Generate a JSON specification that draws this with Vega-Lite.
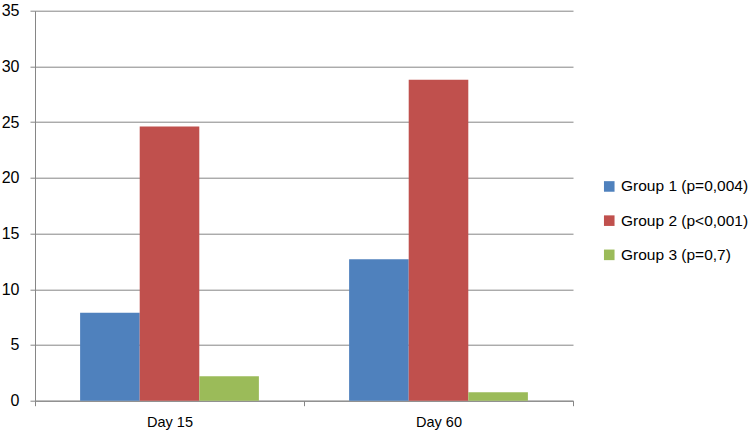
{
  "$schema": "https://vega.github.io/schema/vega-lite/v6.json",
  "autosize": "none",
  "padding": {"left": 35, "top": 10.7, "right": 178, "bottom": 32.3},
  "width": 538,
  "height": 390,
  "background": "white",
  "data": {
    "values": [
      {"day": "Day 15", "group": "Group 1 (p=0,004)", "value": 7.9},
      {"day": "Day 15", "group": "Group 2 (p<0,001)", "value": 24.6},
      {"day": "Day 15", "group": "Group 3 (p=0,7)", "value": 2.2},
      {"day": "Day 60", "group": "Group 1 (p=0,004)", "value": 12.7},
      {"day": "Day 60", "group": "Group 2 (p<0,001)", "value": 28.8},
      {"day": "Day 60", "group": "Group 3 (p=0,7)", "value": 0.75}
    ]
  },
  "mark": {"type": "bar"},
  "encoding": {
    "x": {
      "field": "day",
      "type": "nominal",
      "scale": {"paddingInner": 0, "paddingOuter": 0},
      "axis": {
        "title": null,
        "labelAngle": 0,
        "tickBand": "extent",
        "domainColor": "#868686",
        "tickColor": "#868686",
        "tickSize": 5,
        "labelFont": "Liberation Sans",
        "labelFontSize": 14.5,
        "labelColor": "#000000",
        "labelPadding": 10,
        "grid": false
      }
    },
    "xOffset": {
      "field": "group",
      "type": "nominal",
      "scale": {"paddingInner": 0, "paddingOuter": 0.757}
    },
    "y": {
      "field": "value",
      "type": "quantitative",
      "scale": {"domain": [0, 35], "nice": false},
      "axis": {
        "title": null,
        "values": [0, 5, 10, 15, 20, 25, 30, 35],
        "grid": true,
        "gridColor": "#868686",
        "domainColor": "#868686",
        "tickColor": "#868686",
        "tickSize": 5,
        "labelFont": "Liberation Sans",
        "labelFontSize": 16,
        "labelColor": "#000000",
        "labelPadding": 11
      }
    },
    "color": {
      "field": "group",
      "type": "nominal",
      "scale": {
        "domain": ["Group 1 (p=0,004)", "Group 2 (p<0,001)", "Group 3 (p=0,7)"],
        "range": ["#4F81BD", "#C0504D", "#9BBB59"]
      },
      "legend": {
        "title": null,
        "orient": "none",
        "legendX": 566.5,
        "legendY": 168,
        "padding": 0,
        "symbolType": "square",
        "symbolSize": 112,
        "symbolStrokeWidth": 0,
        "labelFont": "Liberation Sans",
        "labelFontSize": 15.5,
        "labelLimit": 300,
        "labelColor": "#000000",
        "labelOffset": 4,
        "rowPadding": 17.2
      }
    }
  },
  "config": {
    "view": {"stroke": null}
  }
}
